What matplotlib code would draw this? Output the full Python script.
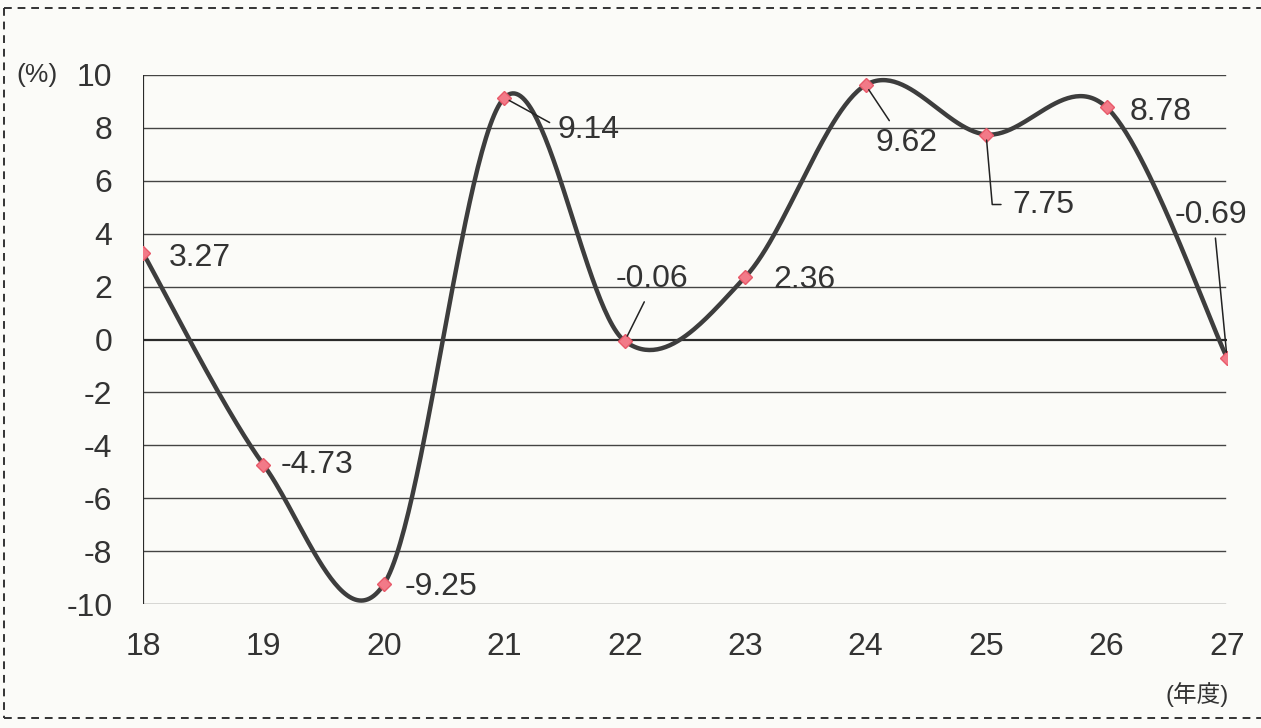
import numpy as np
import matplotlib.pyplot as plt
from matplotlib.lines import Line2D

plt.rcParams['font.family'] = ['Liberation Sans', 'Noto Sans CJK JP', 'DejaVu Sans']

years = [18, 19, 20, 21, 22, 23, 24, 25, 26, 27]
rates = [3.27, -4.73, -9.25, 9.14, -0.06, 2.36, 9.62, 7.75, 8.78, -0.69]
labels = ['3.27', '-4.73', '-9.25', '9.14', '-0.06', '2.36', '9.62', '7.75', '8.78', '-0.69']

# label offsets in pixels and leader style for each point
offsets = [(57, -5), (54, 0), (57, -3), (84, -32), (27, 62),
           (59, -3), (41, -58), (57, -70), (54, -5), (-16, 143)]
leaders = [None, None, None, 'line', 'line', None, 'line', 'elbow', None, 'line']
relpos = [None, None, None, (0, 0.6), (0.45, 0), None, (0.3, 1), None, None, (0.55, 0)]

text_col = '#333333'
line_col = '#3d3d3d'
fs = 23


def smooth(xs, ys, n=60):
    # Catmull-Rom style bezier smoothing, end points repeated
    p = np.column_stack([xs, ys]).astype(float)
    p = np.vstack([p[0], p, p[-1]])
    out = []
    t = np.linspace(0, 1, n)[:, None]
    for i in range(1, len(p) - 2):
        a, b = p[i], p[i + 1]
        c1 = a + (p[i + 1] - p[i - 1]) / 6
        c2 = b - (p[i + 2] - p[i]) / 6
        seg = ((1 - t) ** 3) * a + 3 * ((1 - t) ** 2) * t * c1 + 3 * (1 - t) * t ** 2 * c2 + t ** 3 * b
        out.append(seg)
    out = np.vstack(out)
    return out[:, 0], out[:, 1]


fig = plt.figure(figsize=(12.61, 7.28), dpi=100, facecolor='#fbfbf8')
ax = fig.add_axes([143 / 1261, 1 - 604 / 728, (1227 - 143) / 1261, (604 - 75) / 728])
ax.set_facecolor('none')
ax.set_xlim(18, 27)
ax.set_ylim(-10, 10)

for s in ax.spines.values():
    s.set_visible(False)

gx_end = 18 + (1225 - 143) / (1227 - 143) * 9
for g in range(-10, 11, 2):
    if g == 0:
        continue
    ax.plot([18, gx_end], [g, g], color='#444444', lw=1.0, zorder=1)
# zero line runs to the right edge of the figure
ax.add_line(Line2D([143 / 1261, 1.0], [1 - 340 / 728, 1 - 340 / 728],
                   transform=fig.transFigure, color='#2a2a2a', lw=1.6, zorder=1))
ax.plot([18, 18], [-10, 10], color='#2a2a2a', lw=1.6, zorder=1)

sx, sy = smooth(years, rates)
ax.plot(sx, sy, color=line_col, lw=3.2, solid_capstyle='round', zorder=3)
ax.plot(years, rates, linestyle='none', marker='D', markersize=7.5,
        markerfacecolor='#f27a88', markeredgecolor='#e85a6a', markeredgewidth=1, zorder=4)

ax.set_yticks(range(-10, 11, 2))
ax.set_yticklabels([str(v) for v in range(-10, 11, 2)])
ax.set_xticks(years)
ax.set_xticklabels([str(y) for y in years])
ax.tick_params(axis='both', length=0, labelsize=fs, labelcolor=text_col)
ax.tick_params(axis='y', pad=22)
ax.tick_params(axis='x', pad=20)

for x, y, lab, off, kind, rp in zip(years, rates, labels, offsets, leaders, relpos):
    if kind is None:
        ax.annotate(lab, (x, y), xytext=off, textcoords='offset pixels',
                    ha='center', va='center', fontsize=fs, color=text_col, zorder=5)
    elif kind == 'elbow':
        ax.annotate(lab, (x, y), xytext=off, textcoords='offset pixels',
                    ha='center', va='center', fontsize=fs, color=text_col, zorder=5,
                    arrowprops=dict(arrowstyle='-', color='#222222', lw=1.1,
                                    connectionstyle='angle,angleA=0,angleB=95,rad=0',
                                    relpos=(0, 0.5), shrinkA=6, shrinkB=4))
    else:
        ax.annotate(lab, (x, y), xytext=off, textcoords='offset pixels',
                    ha='center', va='center', fontsize=fs, color=text_col, zorder=5,
                    arrowprops=dict(arrowstyle='-', color='#222222', lw=1.1,
                                    relpos=rp, shrinkA=4, shrinkB=4))

fig.text(37 / 1261, 1 - 75 / 728, '(%)', fontsize=19, color=text_col, ha='center', va='center')
fig.text(1197 / 1261, 1 - 695 / 728, '(年度)', fontsize=17, color=text_col, ha='center', va='center')

# dashed frame around the chart
frame = dict(transform=fig.transFigure, color='#333333', lw=1.4, linestyle=(0, (4, 3)))
fig.add_artist(Line2D([0.003, 1.0], [1 - 8 / 728, 1 - 8 / 728], **frame))
fig.add_artist(Line2D([0.003, 0.003], [1 - 8 / 728, 1 - 718 / 728], **frame))
fig.add_artist(Line2D([0.003, 1.0], [1 - 718 / 728, 1 - 718 / 728], **frame))

fig.savefig('out.png', dpi=100, facecolor=fig.get_facecolor())
